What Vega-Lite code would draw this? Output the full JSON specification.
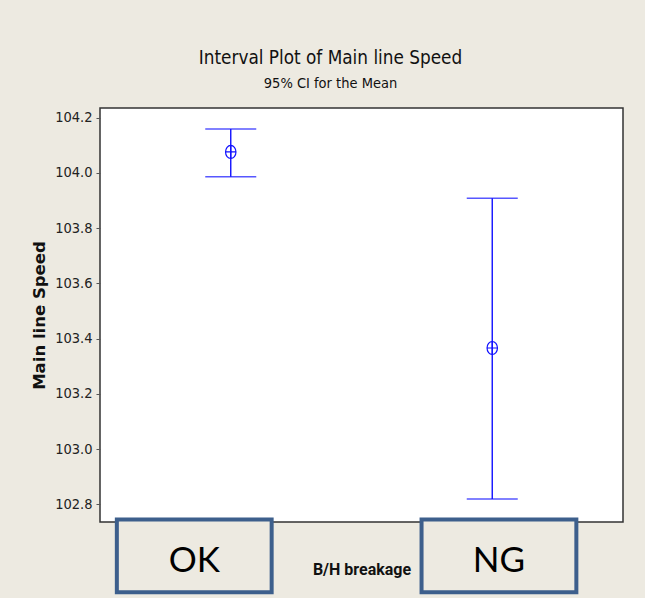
{
  "$schema": "https://vega.github.io/schema/vega-lite/v6.json",
  "width": 523,
  "height": 414,
  "autosize": {"type": "none"},
  "padding": {"left": 100, "top": 108, "right": 22, "bottom": 76},
  "background": "#EDEAE1",
  "title": {
    "text": "Interval Plot of Main line Speed",
    "subtitle": "95% CI for the Mean",
    "anchor": "middle",
    "frame": "group",
    "dx": -31,
    "offset": 18,
    "font": "DejaVu Sans Condensed, sans-serif",
    "fontSize": 18.8,
    "fontWeight": "normal",
    "color": "#111111",
    "subtitleFont": "DejaVu Sans Condensed, sans-serif",
    "subtitleFontSize": 14.5,
    "subtitleColor": "#111111",
    "subtitlePadding": 9
  },
  "config": {
    "view": {"fill": "white", "stroke": "#333333", "strokeWidth": 1.5}
  },
  "data": {
    "values": [
      {"group": "OK", "mean": 104.076, "lower": 103.986, "upper": 104.159},
      {"group": "NG", "mean": 103.366, "lower": 102.819, "upper": 103.908}
    ]
  },
  "encoding": {
    "x": {
      "field": "group",
      "type": "nominal",
      "sort": ["OK", "NG"],
      "scale": {"type": "band", "paddingInner": 0, "paddingOuter": 0},
      "axis": {
        "labels": false,
        "ticks": false,
        "domain": false,
        "title": "B/H breakage",
        "titleFont": "Roboto, sans-serif",
        "titleFontWeight": "bold",
        "titleFontSize": 16,
        "titleColor": "#111111",
        "titlePadding": 39
      }
    }
  },
  "layer": [
    {
      "mark": {"type": "rule", "color": "#1010FF", "strokeWidth": 1.4},
      "encoding": {
        "y": {
          "field": "lower",
          "type": "quantitative",
          "title": "Main line Speed",
          "scale": {"domain": [102.736, 104.235], "nice": false, "zero": false},
          "axis": {
            "values": [102.8, 103.0, 103.2, 103.4, 103.6, 103.8, 104.0, 104.2],
            "format": ".1f",
            "grid": false,
            "domain": false,
            "labelFont": "DejaVu Sans Condensed, sans-serif",
            "labelFontSize": 14.5,
            "labelColor": "#222222",
            "labelPadding": 4,
            "tickSize": 4,
            "tickColor": "#555555",
            "tickWidth": 1,
            "titleFont": "DejaVu Sans",
            "titleFontWeight": "bold",
            "titleFontSize": 16.5,
            "titleColor": "#111111",
            "titlePadding": 7
          }
        },
        "y2": {"field": "upper"}
      }
    },
    {
      "mark": {"type": "tick", "orient": "horizontal", "size": 51, "thickness": 1.5, "color": "#1010FF"},
      "encoding": {"y": {"field": "upper", "type": "quantitative", "title": "Main line Speed"}}
    },
    {
      "mark": {"type": "tick", "orient": "horizontal", "size": 51, "thickness": 1.5, "color": "#1010FF"},
      "encoding": {"y": {"field": "lower", "type": "quantitative", "title": "Main line Speed"}}
    },
    {
      "mark": {
        "type": "point",
        "shape": "M0,-1 A0.8,1 0 1,1 0,1 A0.8,1 0 1,1 0,-1 M-0.8,0 L0.8,0 M0,-1 L0,1",
        "size": 169,
        "filled": false,
        "stroke": "#1010FF",
        "strokeWidth": 1.2,
        "opacity": 1
      },
      "encoding": {"y": {"field": "mean", "type": "quantitative", "title": "Main line Speed"}}
    },
    {
      "mark": {
        "type": "bar",
        "width": {"band": 0.592},
        "fill": "#EDEAE1",
        "stroke": "#3D5F8C",
        "strokeWidth": 4,
        "xOffset": {"expr": "datum.group === 'OK' ? -36.5 : 6.7"}
      },
      "encoding": {
        "y": {"datum": 102.745, "type": "quantitative"},
        "y2": {"datum": 102.482}
      }
    },
    {
      "mark": {
        "type": "text",
        "font": "Lato",
        "fontSize": 35,
        "color": "#000000",
        "baseline": "middle",
        "align": "center",
        "xOffset": {"expr": "datum.group === 'OK' ? -36.5 : 6.7"}
      },
      "encoding": {
        "text": {"field": "group"},
        "y": {"datum": 102.594, "type": "quantitative"}
      }
    }
  ]
}
